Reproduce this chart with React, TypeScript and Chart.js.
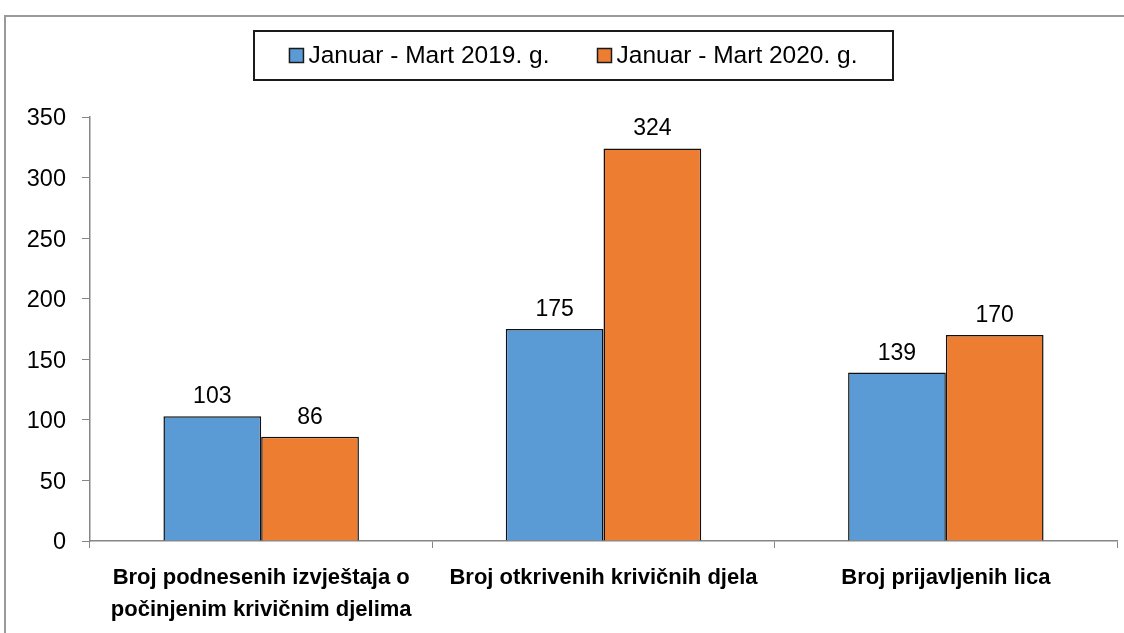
import React, { useEffect, useRef } from "react";
import { Chart, registerables } from "chart.js";

Chart.register(...registerables);

const FONT = "'Liberation Sans', Arial, sans-serif";

const categories: (string | string[])[] = [
  ["Broj podnesenih izvještaja o", "počinjenim krivičnim djelima"],
  "Broj otkrivenih krivičnih djela",
  "Broj prijavljenih lica",
];
const seriesNames = ["Januar - Mart 2019. g.", "Januar - Mart 2020. g."];
const values2019 = [103, 175, 139];
const values2020 = [86, 324, 170];
const yTicks = [0, 50, 100, 150, 200, 250, 300, 350];
const seriesColors = ["#5B9BD5", "#ED7D31"];

const framePlugin = {
  id: "frame",
  beforeDraw(chart: any) {
    const ctx = chart.ctx;
    ctx.save();
    ctx.fillStyle = "#ffffff";
    ctx.fillRect(0, 0, chart.width, chart.height);
    ctx.strokeStyle = "#9a9a9a";
    ctx.lineWidth = 2;
    ctx.strokeRect(5, 16, chart.width + 20, chart.height + 20);
    ctx.restore();
  },
};

const legendBoxPlugin = {
  id: "legendBox",
  afterDraw(chart: any) {
    const ctx = chart.ctx;
    ctx.save();
    ctx.font = `24.5px ${FONT}`;
    const items = chart.data.datasets.map((ds: any) => ({
      label: ds.label as string,
      color: ds.backgroundColor as string,
      w: ctx.measureText(ds.label).width,
    }));
    const sq = 14;
    const gap = 5;
    const itemGap = 48;
    const contentW =
      items.reduce((s: number, it: any) => s + sq + gap + it.w, 0) +
      itemGap * (items.length - 1);
    const boxL = 254;
    const boxR = 893;
    const boxT = 31;
    const boxB = 80;
    ctx.strokeStyle = "#1a1a1a";
    ctx.lineWidth = 2;
    ctx.strokeRect(boxL, boxT, boxR - boxL, boxB - boxT);
    let x = (boxL + boxR) / 2 - contentW / 2;
    const cy = (boxT + boxB) / 2;
    ctx.textBaseline = "middle";
    ctx.textAlign = "left";
    items.forEach((it: any) => {
      ctx.fillStyle = it.color;
      ctx.fillRect(x, cy - sq / 2, sq, sq);
      ctx.strokeStyle = "#1a1a1a";
      ctx.lineWidth = 1.5;
      ctx.strokeRect(x, cy - sq / 2, sq, sq);
      ctx.fillStyle = "#000000";
      ctx.fillText(it.label, x + sq + gap, cy + 1);
      x += sq + gap + it.w + itemGap;
    });
    ctx.restore();
  },
};

const dataLabelPlugin = {
  id: "dataLabels",
  afterDatasetsDraw(chart: any) {
    const ctx = chart.ctx;
    ctx.save();
    ctx.font = `23px ${FONT}`;
    ctx.fillStyle = "#000000";
    ctx.textAlign = "center";
    ctx.textBaseline = "alphabetic";
    chart.data.datasets.forEach((ds: any, di: number) => {
      const meta = chart.getDatasetMeta(di);
      meta.data.forEach((el: any, i: number) => {
        ctx.fillText(String(ds.data[i]), el.x, el.y - 13);
      });
    });
    ctx.restore();
  },
};

export default function App() {
  const ref = useRef<HTMLCanvasElement | null>(null);

  useEffect(() => {
    if (!ref.current) return;
    const chart = new Chart(ref.current, {
      type: "bar",
      data: {
        labels: categories as any,
        datasets: [
          {
            label: seriesNames[0],
            data: values2019,
            backgroundColor: seriesColors[0],
            borderColor: "#111111",
            borderWidth: 1.5,
            barPercentage: 1,
            categoryPercentage: 0.571,
          },
          {
            label: seriesNames[1],
            data: values2020,
            backgroundColor: seriesColors[1],
            borderColor: "#111111",
            borderWidth: 1.5,
            barPercentage: 1,
            categoryPercentage: 0.571,
          },
        ],
      },
      options: {
        responsive: false,
        animation: false,
        devicePixelRatio: 1,
        layout: { padding: { top: 117, left: 0, right: 7, bottom: 0 } },
        plugins: {
          legend: { display: false },
          tooltip: { enabled: false },
        },
        scales: {
          x: {
            grid: {
              display: true,
              drawOnChartArea: false,
              drawTicks: true,
              tickLength: 7,
              color: "#868686",
              offset: true,
            },
            border: { display: true, color: "#868686", width: 1.5 },
            ticks: {
              color: "#000000",
              padding: 14,
              font: { family: FONT, size: 22, weight: "bold", lineHeight: 1.45 },
              maxRotation: 0,
              autoSkip: false,
            },
            afterFit(scale: any) {
              scale.height = 633 - 541;
            },
          },
          y: {
            min: 0,
            max: 350,
            grid: {
              display: true,
              drawOnChartArea: false,
              drawTicks: true,
              tickLength: 8,
              color: "#868686",
            },
            border: { display: true, color: "#868686", width: 1.5 },
            ticks: {
              color: "#000000",
              padding: 16,
              labelOffset: 2,
              font: { family: FONT, size: 23.5 },
            },
            afterBuildTicks(scale: any) {
              scale.ticks = yTicks.map((v) => ({ value: v }));
            },
            afterFit(scale: any) {
              scale.width = 90;
            },
          },
        },
      },
      plugins: [framePlugin, legendBoxPlugin, dataLabelPlugin],
    });
    return () => chart.destroy();
  }, []);

  return (
    <div style={{ position: "absolute", left: 0, top: 0, width: 1124, height: 633 }}>
      <canvas ref={ref} width={1124} height={633} style={{ width: 1124, height: 633 }} />
    </div>
  );
}
